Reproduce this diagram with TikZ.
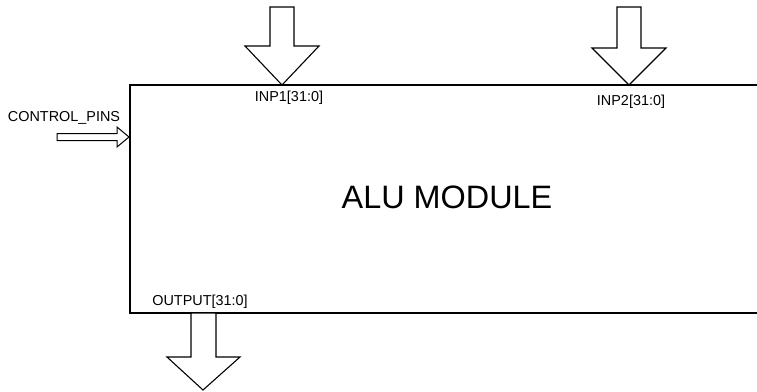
\documentclass[tikz,border=0pt]{standalone}
\usepackage{fontspec}
\setmainfont{Liberation Sans}
\usetikzlibrary{positioning}

\begin{document}
\begin{tikzpicture}[x=1pt, y=-1pt,
          blockline/.style={draw=black, line width=1.1pt},
          busline/.style={draw=black, line width=1.1pt, fill=white, line join=miter},
          pinlabel/.style={inner sep=0pt, font=\fontsize{14.4}{16}\selectfont},
          titlelabel/.style={inner sep=0pt, font=\fontsize{32.4}{38}\selectfont}]
        \useasboundingbox (0,0) rectangle (757,391);
        % module outline, open on the right
        \coordinate (tr) at (757,85);
        \coordinate (tl) at (130,85);
        \coordinate (bl) at (130,313);
        \coordinate (br) at (757,313);
        \draw[blockline] (tr) -- (tl) -- (bl) -- (br);
        \node[titlelabel] (alu) at (447,197) {ALU MODULE};
        % bus arrows
        \coordinate (inp1tip) at (282,85);
        \coordinate (inp2tip) at (629,85);
        \coordinate (outtip) at (203,390);
        \coordinate (ctltip) at (129,137);
        \draw[busline] (inp1tip) -- ++(-37,-39) -- ++(25,0) -- ++(0,-39) -- ++(24,0) -- ++(0,39) -- ++(25,0) -- cycle;
        \draw[busline] (inp2tip) -- ++(-37,-37) -- ++(25,0) -- ++(0,-41) -- ++(24,0) -- ++(0,41) -- ++(25,0) -- cycle;
        \draw[busline] (outtip) -- ++(-36,-33) -- ++(24,0) -- ++(0,-44) -- ++(25,0) -- ++(0,44) -- ++(24,0) -- cycle;
        \draw[busline, line width=1pt] (ctltip) -- ++(-12,-10) -- ++(0,6.5) -- ++(-60,0) -- ++(0,7) -- ++(60,0) -- ++(0,6.5) -- cycle;
        % pin names
        \node[pinlabel] (inp1) at (289,98) {INP1[31:0]};
        \node[pinlabel] (inp2) at (631,102) {INP2[31:0]};
        \node[pinlabel] (outp) at (200,302) {OUTPUT[31:0]};
        \node[pinlabel] (ctl) at (64,118) {CONTROL\_PINS};
      \end{tikzpicture}
\end{document}
